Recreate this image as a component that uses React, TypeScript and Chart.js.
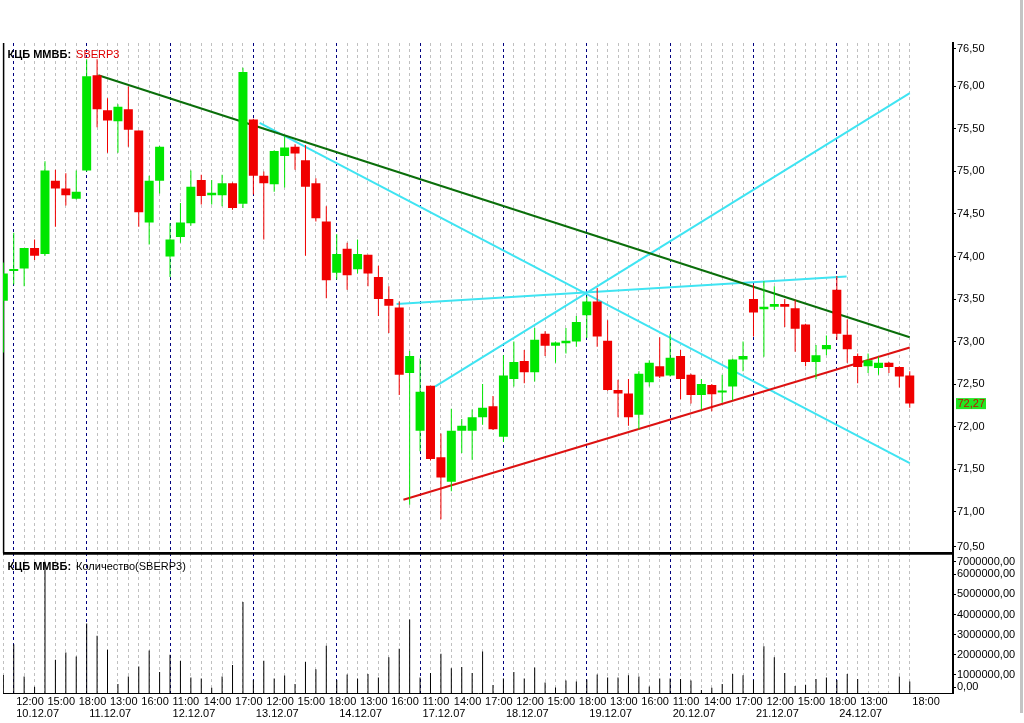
import React, { useEffect, useRef } from "react";
import { Chart, registerables } from "chart.js";

Chart.register(...registerables);

// ---------- data ----------
const DATES = ["10.12.07", "11.12.07", "12.12.07", "13.12.07", "14.12.07", "17.12.07", "18.12.07", "19.12.07", "20.12.07", "21.12.07", "24.12.07"];
const DATE_START_BARS = [1, 8, 16, 24, 32, 40, 48, 56, 64, 72, 80];
const HOURS = ["11:00", "12:00", "13:00", "14:00", "15:00", "16:00", "17:00", "18:00"];
const BAR_TIMES = ["18:00", ...HOURS.slice(1), ...DATES.slice(1).flatMap(() => HOURS)];
const TIME_LABEL_BARS = [1, 4, 7, 10, 13, 16, 19, 22, 25, 28, 31, 34, 37, 40, 43, 46, 49, 52, 55, 58, 61, 64, 67, 70, 73, 76, 79, 82, 87];

const OPEN = [73.48, 73.83, 73.86, 74.10, 74.03, 74.89, 74.80, 74.68, 75.01, 76.13, 75.72, 75.59, 75.73, 75.48, 74.40, 74.89, 74.00, 74.23, 74.39, 74.90, 74.72, 74.72, 74.86, 74.62, 75.61, 74.95, 74.85, 75.18, 75.29, 75.13, 74.86, 74.41, 73.81, 74.09, 73.85, 74.02, 73.76, 73.50, 73.40, 72.63, 71.95, 72.48, 71.64, 71.35, 71.95, 71.95, 72.11, 72.24, 71.88, 72.56, 72.77, 72.64, 73.09, 72.95, 72.98, 73.00, 73.31, 73.47, 73.01, 72.43, 72.39, 72.14, 72.52, 72.71, 72.60, 72.83, 72.61, 72.37, 72.49, 72.40, 72.47, 72.79, 73.50, 73.38, 73.41, 73.44, 73.39, 73.20, 72.76, 72.91, 73.61, 73.08, 72.83, 72.71, 72.69, 72.75, 72.70, 72.60];
const HIGH = [73.93, 74.28, 74.10, 74.20, 75.12, 75.02, 74.98, 75.01, 76.32, 76.32, 75.86, 75.79, 76.00, 75.48, 74.95, 75.30, 74.39, 74.63, 75.01, 74.96, 74.90, 74.96, 74.87, 76.22, 75.62, 75.00, 75.25, 75.41, 75.32, 75.31, 74.92, 74.59, 74.26, 74.16, 74.20, 74.02, 73.89, 73.65, 73.47, 72.89, 72.80, 72.48, 71.92, 72.21, 72.09, 72.20, 72.50, 72.36, 72.84, 73.00, 72.90, 73.16, 73.12, 73.00, 73.16, 73.30, 73.53, 73.63, 73.25, 72.55, 72.56, 72.65, 72.78, 73.05, 73.09, 72.90, 72.62, 72.56, 72.50, 72.61, 72.80, 73.00, 73.67, 73.71, 73.65, 73.50, 73.49, 73.21, 72.96, 73.07, 73.77, 73.26, 72.86, 72.86, 72.82, 72.76, 72.71, 72.65];
const LOW = [72.87, 73.67, 73.65, 73.96, 74.01, 74.35, 74.60, 74.67, 75.00, 75.52, 75.22, 75.22, 75.29, 74.35, 74.14, 74.74, 73.76, 74.16, 74.36, 74.61, 74.61, 74.59, 74.55, 74.57, 74.73, 74.20, 74.76, 74.81, 75.02, 74.01, 74.41, 73.51, 73.73, 73.61, 73.80, 73.65, 73.30, 73.10, 72.37, 71.08, 71.71, 71.60, 70.91, 71.24, 71.69, 71.61, 72.02, 71.96, 71.82, 72.47, 72.51, 72.53, 72.83, 72.75, 72.86, 72.94, 73.04, 72.94, 72.42, 72.11, 72.01, 71.97, 72.47, 72.57, 72.59, 72.32, 72.27, 72.20, 72.18, 72.28, 72.31, 72.65, 73.06, 72.82, 73.37, 73.17, 72.88, 72.71, 72.56, 72.84, 73.02, 72.75, 72.51, 72.63, 72.61, 72.63, 72.46, 72.22];
const CLOSE = [73.80, 73.85, 74.10, 74.01, 75.01, 74.80, 74.72, 74.76, 76.12, 75.73, 75.60, 75.76, 75.49, 74.52, 74.89, 75.29, 74.20, 74.40, 74.82, 74.71, 74.75, 74.86, 74.57, 76.17, 74.95, 74.86, 75.24, 75.28, 75.21, 74.82, 74.45, 73.72, 74.03, 73.78, 74.03, 73.80, 73.50, 73.42, 72.61, 72.83, 72.41, 71.62, 71.40, 71.95, 72.01, 72.11, 72.22, 71.97, 72.60, 72.76, 72.64, 73.02, 72.95, 72.99, 73.01, 73.23, 73.47, 73.06, 72.43, 72.39, 72.11, 72.62, 72.75, 72.59, 72.81, 72.56, 72.37, 72.50, 72.38, 72.42, 72.79, 72.83, 73.34, 73.41, 73.44, 73.41, 73.15, 72.76, 72.84, 72.96, 73.09, 72.91, 72.70, 72.78, 72.75, 72.70, 72.59, 72.27];
const VOLUME = [1000000, 2530000, 920000, 420000, 6620000, 1750000, 2120000, 1920000, 3550000, 2950000, 2250000, 550000, 920000, 1420000, 2220000, 1150000, 2000000, 1700000, 870000, 820000, 370000, 920000, 1500000, 4620000, 750000, 1700000, 820000, 970000, 550000, 1650000, 1280000, 2450000, 750000, 1020000, 820000, 1050000, 870000, 1880000, 2300000, 3750000, 870000, 1100000, 2050000, 1330000, 1400000, 1100000, 2170000, 500000, 820000, 1150000, 820000, 1370000, 630000, 380000, 730000, 670000, 780000, 1020000, 870000, 870000, 980000, 920000, 430000, 820000, 820000, 800000, 720000, 250000, 370000, 550000, 1050000, 980000, 750000, 2420000, 1880000, 1100000, 450000, 520000, 800000, 870000, 750000, 1050000, 800000, 100000, 100000, 100000, 920000, 670000];

const PRICE_TICKS = [70.5, 71, 71.5, 72, 72.5, 73, 73.5, 74, 74.5, 75, 75.5, 76, 76.5];
const VOLUME_TICKS = [0, 1000000, 2000000, 3000000, 4000000, 5000000, 6000000, 7000000];

const RESISTANCE_LINE = [{ x: 9.12, y: 76.13 }, { x: 87, y: 73.05 }];
const SUPPORT_LINE = [{ x: 38.4, y: 71.14 }, { x: 87, y: 72.93 }];
const FAN_DOWN_LINE = [{ x: 24.6, y: 75.57 }, { x: 87, y: 71.57 }];
const FAN_UP_LINE = [{ x: 41.43, y: 72.47 }, { x: 87, y: 75.92 }];
const FAN_FLAT_LINE = [{ x: 37.75, y: 73.44 }, { x: 80.94, y: 73.765 }];

// ---------- styling ----------
const FONT = "'Liberation Sans', Arial, sans-serif";
const UP = "#00e600";
const DOWN = "#f00000";
const fmt = (v: number) => v.toFixed(2).replace(".", ",");
const clamp = (v: number, lo: number, hi: number) => Math.min(Math.max(v, lo), hi);

function xLabel(i: number): string | string[] {
  const t = TIME_LABEL_BARS.includes(i) ? BAR_TIMES[i] : "";
  const di = DATE_START_BARS.indexOf(i);
  if (di >= 0) return [t, DATES[di]];
  return t;
}

const framePlugin = {
  id: "quikFrame",
  beforeDatasetsDraw(chart: any) {
    const { ctx, chartArea, scales } = chart;
    ctx.save();
    ctx.strokeStyle = "#000";
    ctx.lineWidth = 1.5;
    ctx.beginPath();
    ctx.moveTo(chartArea.left + 0.6, scales.y.top);
    ctx.lineTo(chartArea.left + 0.6, scales.y.bottom);
    ctx.stroke();
    ctx.restore();
  },
  afterDraw(chart: any) {
    const { ctx, chartArea, scales } = chart;
    ctx.save();
    // panel separator
    ctx.strokeStyle = "#000";
    ctx.lineWidth = 2.7;
    ctx.beginPath();
    ctx.moveTo(chartArea.left, scales.y.bottom);
    ctx.lineTo(chartArea.right, scales.y.bottom);
    ctx.stroke();

    // titles
    ctx.textBaseline = "middle";
    ctx.textAlign = "left";
    const x0 = chartArea.left + 4.5;
    ctx.font = `bold 11px ${FONT}`;
    ctx.fillStyle = "#000";
    const head = "КЦБ ММВБ:";
    const hw = ctx.measureText(head).width;
    ctx.fillText(head, x0, scales.y.top + 12);
    ctx.fillText(head, x0, scales.yv.top + 13.4);
    ctx.font = `11px ${FONT}`;
    ctx.fillStyle = "#e00000";
    ctx.fillText("SBERP3", x0 + hw + 5, scales.y.top + 12);
    ctx.fillStyle = "#000";
    ctx.fillText("Количество(SBERP3)", x0 + hw + 5, scales.yv.top + 13.4);

    // last price tag
    const last = CLOSE[CLOSE.length - 1];
    const py = scales.y.getPixelForValue(last);
    const tx = scales.y.left + 3;
    ctx.fillStyle = "#22e622";
    ctx.fillRect(tx, py - 5.5, 30, 11);
    ctx.fillStyle = "#c01000";
    ctx.font = `11px ${FONT}`;
    ctx.fillText(fmt(last), tx + 1.5, py + 0.5);
    ctx.restore();
  },
};

export default function App() {
  const ref = useRef<HTMLCanvasElement>(null);

  useEffect(() => {
    const canvas = ref.current;
    if (!canvas) return;
    const colors = OPEN.map((o, i) => (CLOSE[i] >= o ? UP : DOWN));
    const bodies = OPEN.map((o, i) => ({ x: i, y: [Math.min(o, CLOSE[i]), Math.max(o, CLOSE[i])] }));
    const wicks = OPEN.map((_, i) => ({ x: i, y: [LOW[i], HIGH[i]] }));
    const vols = VOLUME.map((v, i) => ({ x: i, y: v }));

    const lineDs = (label: string, data: any[], color: string) => ({
      type: "line" as const,
      label,
      data,
      borderColor: color,
      borderWidth: 2,
      pointRadius: 0,
      tension: 0,
      fill: false,
      xAxisID: "x",
      yAxisID: "y",
      order: 2,
    });

    const chart = new Chart(canvas, {
      type: "bar",
      data: {
        datasets: [
          { label: "body", data: bodies as any, backgroundColor: colors, barThickness: 9, minBarLength: 2, grouped: false, borderWidth: 0, inflateAmount: 0, xAxisID: "x", yAxisID: "y", order: 0 },
          { label: "wick", data: wicks as any, backgroundColor: colors, barThickness: 1, grouped: false, borderWidth: 0, inflateAmount: 0, xAxisID: "x", yAxisID: "y", order: 1 },
          lineDs("resistance", RESISTANCE_LINE, "#0a6e0a") as any,
          lineDs("support", SUPPORT_LINE, "#dd1111") as any,
          lineDs("fanDown", FAN_DOWN_LINE, "#3fe4f2") as any,
          lineDs("fanUp", FAN_UP_LINE, "#3fe4f2") as any,
          lineDs("fanFlat", FAN_FLAT_LINE, "#3fe4f2") as any,
          { label: "volume", data: vols as any, backgroundColor: "#000", barThickness: 1, grouped: false, borderWidth: 0, inflateAmount: 0, xAxisID: "x", yAxisID: "yv", order: 3 },
        ],
      },
      options: {
        animation: false,
        responsive: false,
        events: [],
        layout: { padding: { left: 3, top: 43, right: 0, bottom: 0 } },
        plugins: { legend: { display: false }, tooltip: { enabled: false }, title: { display: false } },
        scales: {
          y: {
            type: "linear",
            position: "right",
            stack: "panels",
            stackWeight: 510.3,
            min: 70.51,
            max: 76.51,
            offset: false,
            afterFit: (s: any) => { s.width = 71; },
            afterBuildTicks: (s: any) => { s.ticks = PRICE_TICKS.map((v) => ({ value: clamp(v, 70.59, 76.44) })); },
            ticks: { autoSkip: false, padding: 1, color: "#000", font: { family: FONT, size: 11 }, callback: (_v: any, i: number) => fmt(PRICE_TICKS[i]) },
            grid: { drawOnChartArea: false, drawTicks: true, tickLength: 3, tickColor: "#000", tickWidth: 1, color: "#000" },
            border: { display: true, color: "#000", width: 2 },
          },
          yv: {
            type: "linear",
            position: "right",
            stack: "panels",
            stackWeight: 140,
            min: 90000,
            max: 7040000,
            offset: false,
            afterFit: (s: any) => { s.width = 71; },
            afterBuildTicks: (s: any) => { s.ticks = VOLUME_TICKS.map((v) => ({ value: clamp(v, 390000, 6620000) })); },
            ticks: { autoSkip: false, padding: 1, color: "#000", font: { family: FONT, size: 11 }, callback: (_v: any, i: number) => fmt(VOLUME_TICKS[i]) },
            grid: { drawOnChartArea: false, drawTicks: true, tickLength: 3, tickColor: "#000", tickWidth: 1, color: "#000" },
            border: { display: true, color: "#000", width: 2 },
          },
          x: {
            type: "linear",
            position: "bottom",
            min: -0.03,
            max: 91.15,
            offset: false,
            afterBuildTicks: (s: any) => { s.ticks = BAR_TIMES.map((_, i) => ({ value: i })); },
            afterFit: (s: any) => { s.height = 29.7; },
            ticks: {
              autoSkip: false,
              maxRotation: 0,
              minRotation: 0,
              align: "start",
              labelOffset: 2.5,
              padding: 2.3,
              color: "#000",
              font: { family: FONT, size: 11, lineHeight: 1.12 },
              callback: (_v: any, i: number) => xLabel(i),
            },
            grid: {
              display: true,
              drawOnChartArea: true,
              drawTicks: false,
              offset: false,
              lineWidth: 1,
              color: (c: any) => (DATE_START_BARS.includes(c.tick?.value) ? "#000080" : "#c0c0c0"),
            },
            border: { display: true, color: "#000", width: 1, dash: [3, 3] },
          },
        },
      } as any,
      plugins: [framePlugin],
    });
    return () => chart.destroy();
  }, []);

  return (
    <div style={{ position: "absolute", left: 0, top: 0, width: 1024, height: 723, background: "#fff", overflow: "hidden" }}>
      <canvas ref={ref} width={1024} height={723} style={{ display: "block", width: 1024, height: 723 }} />
      <div style={{ position: "absolute", left: 1020, top: 0, width: 3, height: 713, background: "#c4c4c4" }} />
    </div>
  );
}
